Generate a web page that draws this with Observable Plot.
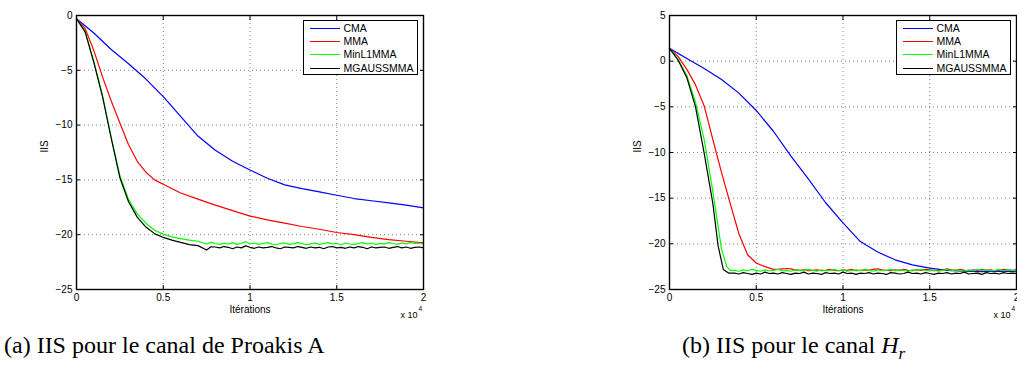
<!DOCTYPE html>
<html><head><meta charset="utf-8">
<script src="https://cdn.jsdelivr.net/npm/d3@7"></script>
<script src="https://cdn.jsdelivr.net/npm/@observablehq/plot@0.6"></script>
<style>
html,body{margin:0;padding:0;background:#fff;overflow:hidden;}
#page{position:relative;width:1017px;height:374px;overflow:hidden;background:#fff;}
.panel{position:absolute;top:0;width:440px;height:330px;}
.panel svg{overflow:visible;}
.legend{position:absolute;left:303px;top:20px;width:113px;height:53px;border:1.5px solid #000;background:#fff;font-family:"Liberation Sans",Arial,sans-serif;font-size:10.5px;color:#000;}
.legend .row{position:absolute;left:0;height:13px;width:110px;}
.legend .sw{position:absolute;left:5.5px;top:6px;width:30px;height:0;border-top:1.2px solid;}
.legend .lb{position:absolute;left:39.5px;top:0;line-height:13px;white-space:nowrap;}
.caption{position:absolute;top:331px;font-family:"Liberation Serif","DejaVu Serif",serif;font-size:24px;line-height:28px;white-space:nowrap;color:#000;}
</style></head>
<body>
<div id="page"></div>
<script>
// ---------- shared ----------
const seriesNames = ["CMA", "MMA", "MinL1MMA", "MGAUSSMMA"];
const seriesColors = ["#0000ff", "#ff0000", "#00ff00", "#000000"];
const xTicks = [0, 5000, 10000, 15000, 20000];
const xTickLabels = ["0", "0.5", "1", "1.5", "2"];
const yTicksA = [0, -5, -10, -15, -20, -25];
const yTicksB = [5, 0, -5, -10, -15, -20, -25];
const plateauStep = 250;
const captionA = "(a) IIS pour le canal de Proakis A";
const captionBText = "(b) IIS pour le canal ";

// ---------- panel (a): canal de Proakis A ----------
const aIterCMA = [0,1000,2000,3000,4000,5000,6000,7000,8000,9000,10000,11000,12000,13000,14000,15000,16000,17000,18000,19000,20000];
const aCMA = [-0.3,-1.6,-3.1,-4.4,-5.8,-7.4,-9.2,-11.0,-12.3,-13.3,-14.1,-14.85,-15.45,-15.8,-16.1,-16.4,-16.7,-16.9,-17.1,-17.3,-17.55];

const aIterMMA = [0,500,1000,1500,2000,2500,3000,3500,4000,4500,5000,6000,7000,8000,9000,10000,11000,12000,13000,14000,15000,16000,17000,18000,19000,20000];
const aMMA = [-0.3,-1.2,-3.2,-5.6,-7.8,-9.8,-11.8,-13.3,-14.3,-15.0,-15.4,-16.2,-16.75,-17.3,-17.8,-18.3,-18.65,-18.95,-19.25,-19.5,-19.8,-20.0,-20.25,-20.45,-20.6,-20.75];

const aIterFast = [0,500,1000,1500,2000,2500,3000,3500,4000,4500,5000,5500,6000,6500,7000,7500,7750];
const aL1 = [-0.3,-1.5,-4.2,-7.3,-11.1,-14.6,-16.8,-18.1,-18.95,-19.6,-19.95,-20.2,-20.35,-20.5,-20.6,-20.85,-20.7];
const aGauss = [-0.3,-1.5,-4.3,-7.4,-11.2,-14.8,-17.0,-18.4,-19.3,-19.9,-20.25,-20.5,-20.7,-20.9,-21.0,-21.4,-21.1];
const aPlateauStart = 8000;
const aL1Plateau = [
-20.8,-20.88,-20.78,-20.85,-20.72,-20.88,-20.8,-20.62,-20.85,-20.76,
-20.88,-20.8,-20.72,-20.85,-20.92,-20.8,-20.76,-20.88,-20.84,-20.72,
-20.8,-20.92,-20.84,-20.76,-20.88,-20.8,-20.72,-20.85,-20.8,-20.92,
-20.76,-20.85,-20.88,-20.8,-20.72,-20.85,-20.76,-20.88,-20.8,-20.84,
-20.72,-20.8,-20.88,-20.76,-20.84,-20.72,-20.8,-20.76,-20.84];
const aGaussPlateau = [
-21.12,-21.2,-21.08,-21.15,-21.28,-21.12,-21.2,-21.02,-21.15,-21.24,
-21.12,-21.2,-21.15,-21.08,-21.2,-21.28,-21.12,-21.15,-21.2,-21.08,
-21.15,-21.24,-21.12,-21.2,-21.15,-21.28,-21.12,-21.08,-21.2,-21.15,
-21.24,-21.12,-21.2,-21.08,-21.15,-21.28,-21.12,-21.2,-21.15,-21.12,
-21.24,-21.15,-21.08,-21.2,-21.12,-21.24,-21.15,-21.12,-21.2];

// ---------- panel (b): canal H_r ----------
const bIterCMA = [0,1000,2000,3000,4000,5000,6000,7000,8000,9000,10000,11000,12000,13000,14000,15000,16000,17000,18000,19000,20000];
const bCMA = [1.4,0.3,-0.8,-2.0,-3.5,-5.4,-7.7,-10.4,-12.9,-15.5,-17.7,-19.75,-20.9,-21.75,-22.3,-22.65,-22.9,-23.0,-23.05,-23.0,-23.05];

const bIterMMA = [0,500,1000,1500,2000,2500,3000,3500,4000,4500,5000,5500,6000];
const bMMA = [1.4,0.5,-0.9,-2.6,-4.9,-8.6,-12.2,-15.6,-18.9,-21.2,-22.1,-22.5,-22.8];
const bMMAPlateauStart = 6250;
const bMMAPlateau = [
-22.8,-22.75,-22.7,-22.75,-22.85,-22.9,-22.85,-22.95,-22.9,-22.85,
-22.95,-22.9,-22.8,-22.9,-22.95,-22.85,-22.9,-22.8,-22.95,-22.9,
-22.85,-22.9,-22.8,-22.75,-22.85,-22.9,-22.95,-22.85,-22.9,-22.8,
-22.9,-22.95,-22.85,-22.9,-22.8,-22.85,-22.95,-22.9,-22.85,-22.75,
-22.85,-22.9,-22.8,-22.9,-22.95,-22.85,-22.9,-22.8,-22.9,-22.85,
-22.95,-22.9,-22.8,-22.85,-22.9,-22.85];

const bIterL1 = [0,500,1000,1500,2000,2500,3000,3300,3500];
const bL1 = [1.4,0.2,-1.6,-4.5,-8.6,-14.3,-20.6,-22.5,-22.9];
const bIterGauss = [0,500,1000,1500,2000,2500,2800,3100,3400];
const bGauss = [1.4,0.1,-1.8,-5.0,-10.1,-15.6,-20.2,-22.8,-23.2];
const bFastPlateauStart = 3750;
const bL1Plateau = [
-22.9,-23.0,-22.85,-22.95,-22.8,-22.9,-23.0,-22.85,-22.95,-22.9,
-22.8,-22.95,-22.9,-23.0,-22.85,-22.9,-22.95,-22.8,-22.9,-23.0,
-22.85,-22.95,-22.9,-22.8,-22.95,-22.85,-23.0,-22.9,-22.85,-22.95,
-22.8,-22.9,-23.0,-22.85,-22.95,-22.9,-22.8,-22.95,-22.85,-22.9,
-23.0,-22.85,-22.9,-22.8,-22.95,-22.9,-22.85,-23.0,-22.9,-22.8,
-22.95,-22.85,-22.9,-23.0,-22.85,-22.95,-22.8,-22.9,-22.85,-22.95,
-22.9,-22.8,-22.95,-22.85,-22.9,-22.95];
const bGaussPlateau = [
-23.2,-23.3,-23.15,-23.25,-23.35,-23.2,-23.3,-23.1,-23.25,-23.2,
-23.3,-23.15,-23.25,-23.35,-23.2,-23.25,-23.1,-23.3,-23.2,-23.25,
-23.35,-23.15,-23.25,-23.2,-23.3,-23.1,-23.25,-23.2,-23.35,-23.2,
-23.25,-23.15,-23.3,-23.2,-23.25,-23.35,-23.15,-23.2,-23.3,-23.25,
-23.1,-23.25,-23.2,-23.3,-23.15,-23.25,-23.35,-23.2,-23.25,-23.15,
-23.3,-23.2,-23.25,-23.1,-23.3,-23.25,-23.2,-23.35,-23.15,-23.25,
-23.2,-23.3,-23.15,-23.25,-23.2,-23.25];

// ---------- build rows ----------
function rows(name, iters, vals, pStart, plateau) {
  const out = iters.map((it, i) => ({s: name, it, v: vals[i]}));
  if (plateau) plateau.forEach((v, i) => out.push({s: name, it: pStart + i * plateauStep, v}));
  return out;
}
const dataA = [
  rows("CMA", aIterCMA, aCMA),
  rows("MMA", aIterMMA, aMMA),
  rows("MinL1MMA", aIterFast, aL1, aPlateauStart, aL1Plateau),
  rows("MGAUSSMMA", aIterFast, aGauss, aPlateauStart, aGaussPlateau)
];
const dataB = [
  rows("CMA", bIterCMA, bCMA),
  rows("MMA", bIterMMA, bMMA, bMMAPlateauStart, bMMAPlateau),
  rows("MinL1MMA", bIterL1, bL1, bFastPlateauStart, bL1Plateau),
  rows("MGAUSSMMA", bIterGauss, bGauss, bFastPlateauStart, bGaussPlateau)
];

function panel(data, yDomain, yTicks) {
  const grid = {stroke: "#000", strokeOpacity: 0.55, strokeDasharray: "1,3", strokeWidth: 0.9};
  const blank = () => "";
  return Plot.plot({
    width: 440, height: 330,
    marginLeft: 76, marginRight: 17, marginTop: 15, marginBottom: 41,
    style: {fontFamily: "'Liberation Sans', Arial, sans-serif", fontSize: "10px", background: "transparent", color: "#000"},
    x: {domain: [0, 20000]},
    y: {domain: yDomain},
    color: {domain: seriesNames, range: seriesColors},
    marks: [
      Plot.gridX(xTicks, grid),
      Plot.gridY(yTicks, grid),
      ...data.map(d => Plot.line(d, {x: "it", y: "v", stroke: "s", strokeWidth: 1.2})),
      Plot.axisX(xTicks, {anchor: "bottom", tickSize: -4, tickPadding: 8, tickFormat: d => xTickLabels[xTicks.indexOf(d)], label: null}),
      Plot.axisX(xTicks, {anchor: "top", tickSize: -4, tickFormat: blank, label: null}),
      Plot.axisY(yTicks, {anchor: "left", tickSize: -4, tickPadding: 8, label: null}),
      Plot.axisY(yTicks, {anchor: "right", tickSize: -4, tickFormat: blank, label: null}),
      Plot.frame({stroke: "#000", strokeWidth: 1.4}),
      Plot.text(["IIS"], {text: d => d, frameAnchor: "left", dx: -32, rotate: -90, fontSize: 10}),
      Plot.text(["Itérations"], {text: d => d, frameAnchor: "bottom", dy: 23, fontSize: 10}),
      Plot.text(["x 10"], {text: d => d, frameAnchor: "bottom-right", textAnchor: "end", dx: -6, dy: 28, fontSize: 9}),
      Plot.text(["4"], {text: d => d, frameAnchor: "bottom-right", textAnchor: "start", dx: -5, dy: 21, fontSize: 6.5})
    ]
  });
}

function legend() {
  const lg = document.createElement("div");
  lg.className = "legend";
  seriesNames.forEach((n, i) => {
    const r = document.createElement("div");
    r.className = "row";
    r.style.top = (0.5 + i * 13.4) + "px";
    const sw = document.createElement("div");
    sw.className = "sw";
    sw.style.borderTopColor = seriesColors[i];
    const lb = document.createElement("div");
    lb.className = "lb";
    lb.textContent = n;
    r.appendChild(sw); r.appendChild(lb);
    lg.appendChild(r);
  });
  return lg;
}

const page = document.getElementById("page");
[[dataA, [-25, 0], yTicksA, 0], [dataB, [-25, 5], yTicksB, 593]].forEach(([d, dom, ticks, left]) => {
  const wrap = document.createElement("div");
  wrap.className = "panel";
  wrap.style.left = left + "px";
  wrap.appendChild(panel(d, dom, ticks));
  wrap.appendChild(legend());
  page.appendChild(wrap);
});

const capA = document.createElement("div");
capA.className = "caption";
capA.style.left = "4px";
capA.textContent = captionA;
page.appendChild(capA);

const capB = document.createElement("div");
capB.className = "caption";
capB.style.left = "682px";
capB.appendChild(document.createTextNode(captionBText));
const hi = document.createElement("i");
hi.textContent = "H";
const sub = document.createElement("sub");
sub.style.fontSize = "17px";
const ri = document.createElement("i");
ri.textContent = "r";
sub.appendChild(ri);
capB.appendChild(hi);
capB.appendChild(sub);
page.appendChild(capB);
</script>
</body></html>
